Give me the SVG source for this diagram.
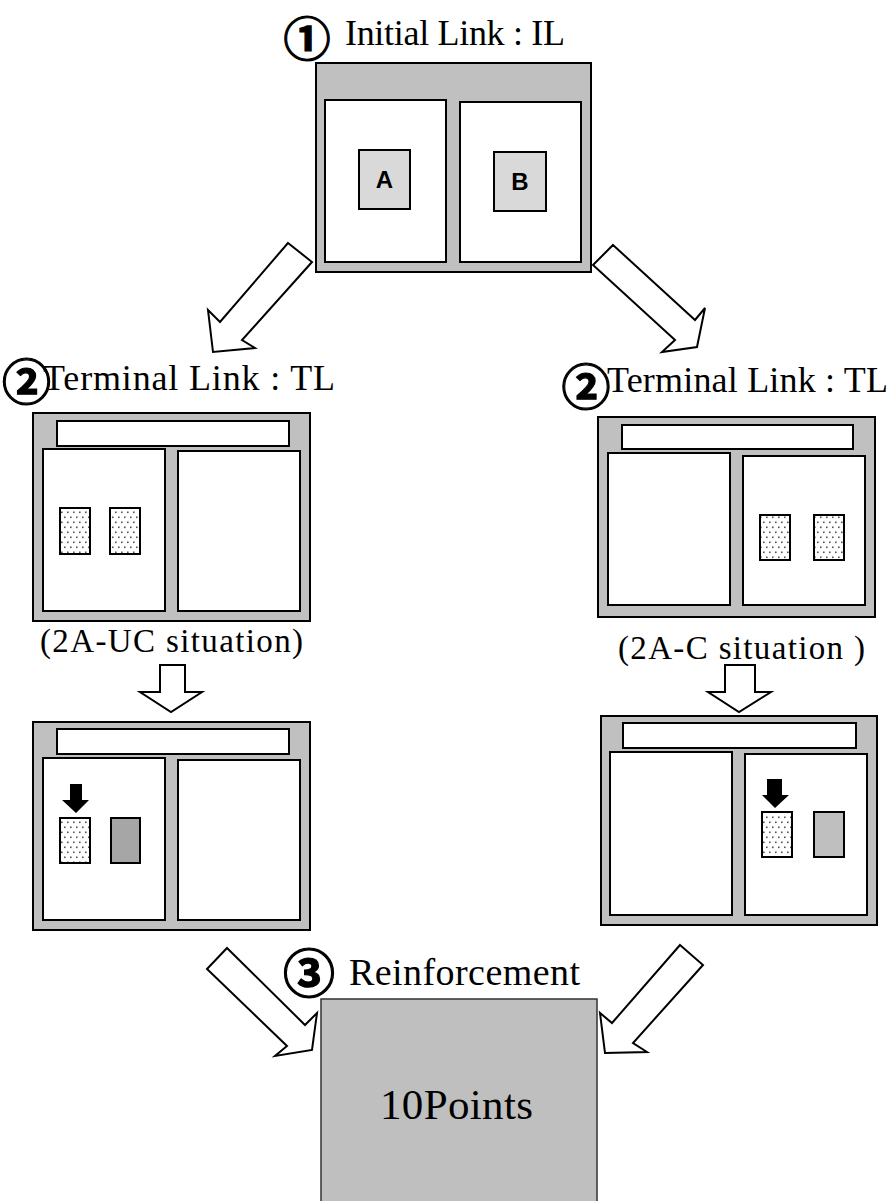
<svg xmlns="http://www.w3.org/2000/svg" width="896" height="1201" viewBox="0 0 896 1201">
  <defs>
    <!-- staggered dot fill for the stimulus cards -->
    <pattern id="dots" width="6" height="10" patternUnits="userSpaceOnUse">
      <rect width="6" height="10" fill="#ffffff"/>
      <rect x="1" y="1.5" width="1.6" height="1.6" fill="#555"/>
      <rect x="4" y="6.5" width="1.6" height="1.6" fill="#555"/>
    </pattern>
    <style>
      .frame { fill: #c0c0c0; stroke: #000; stroke-width: 2; }
      .panel { fill: #ffffff; stroke: #000; stroke-width: 2; }
      .bar   { fill: #ffffff; stroke: #000; stroke-width: 2; }
      .key   { fill: #d9d9d9; stroke: #000; stroke-width: 2; }
      .card  { fill: url(#dots); stroke: #000; stroke-width: 2; }
      .hollow { fill: #ffffff; stroke: #000; stroke-width: 2; stroke-linejoin: miter; }
      .solid { fill: #000; stroke: none; }
      .title { font-family: "Liberation Serif", "Times New Roman", serif; font-size: 36px; fill: #000; }
      .note  { font-family: "Liberation Serif", "Times New Roman", serif; font-size: 33px; fill: #000; }
      .num   { font-family: "Noto Sans CJK JP", "Noto Sans", sans-serif; font-weight: bold; font-size: 52px; fill: #000; stroke: #000; stroke-width: 1.2; text-anchor: middle; }
      .letter { font-family: "Liberation Sans", Arial, sans-serif; font-weight: bold; font-size: 24px; fill: #000; text-anchor: middle; }
    </style>
  </defs>

  <!-- stage 1: initial link -->
  <g id="initial-link">
    <text class="num" x="307" y="55.5" style="font-size:47px">①</text>
    <text class="title" x="345" y="45" textLength="220" lengthAdjust="spacing">Initial Link : IL</text>
    <rect class="frame" x="316" y="63" width="275" height="209"/>
    <rect class="panel" x="325" y="100" width="121" height="162"/>
    <rect class="panel" x="460" y="102" width="121" height="160"/>
    <rect class="key" x="359" y="150" width="51" height="59"/>
    <rect class="key" x="494" y="152" width="52" height="59"/>
    <text class="letter" x="384.5" y="188">A</text>
    <text class="letter" x="520" y="190">B</text>
  </g>

  <!-- stage 2 (left): terminal link, uncorrelated -->
  <g id="terminal-link-uc">
    <text class="num" x="26.5" y="400" style="font-size:49px">②</text>
    <text class="title" x="43" y="390" textLength="292" lengthAdjust="spacing">Terminal Link : TL</text>
    <rect class="frame" x="33" y="413" width="277" height="208"/>
    <rect class="bar" x="57" y="421" width="232" height="25"/>
    <rect class="panel" x="43" y="449" width="122" height="162"/>
    <rect class="panel" x="178" y="451" width="122" height="160"/>
    <rect class="card" x="60" y="508" width="30" height="46"/>
    <rect class="card" x="110" y="508" width="30" height="46"/>
    <text class="note" x="40" y="652" textLength="263" lengthAdjust="spacing">(2A-UC situation)</text>
  </g>

  <!-- stage 2 (right): terminal link, correlated -->
  <g id="terminal-link-c">
    <text class="num" x="586" y="404.5" style="font-size:49px">②</text>
    <text class="title" x="607" y="392" textLength="281" lengthAdjust="spacing">Terminal Link : TL</text>
    <rect class="frame" x="598" y="417" width="277" height="200"/>
    <rect class="bar" x="622" y="425" width="231" height="24"/>
    <rect class="panel" x="608" y="453" width="122" height="152"/>
    <rect class="panel" x="743" y="456" width="122" height="149"/>
    <rect class="card" x="760" y="515" width="30" height="45"/>
    <rect class="card" x="814" y="515" width="30" height="45"/>
    <text class="note" x="618" y="659" textLength="247" lengthAdjust="spacing">(2A-C situation )</text>
  </g>

  <!-- left choice screen -->
  <g id="choice-uc">
    <rect class="frame" x="33" y="722" width="277" height="208"/>
    <rect class="bar" x="57" y="729" width="232" height="25"/>
    <rect class="panel" x="43" y="758" width="122" height="162"/>
    <rect class="panel" x="178" y="760" width="122" height="160"/>
    <rect class="card" x="60" y="818" width="30" height="45"/>
    <rect x="111" y="818" width="29" height="45" fill="#a6a6a6" stroke="#000" stroke-width="2"/>
    <polygon class="solid" points="70,784 82,784 82,800 89,800 76,813 62,800 70,800"/>
  </g>

  <!-- right choice screen -->
  <g id="choice-c">
    <rect class="frame" x="601" y="716" width="276" height="209"/>
    <rect class="bar" x="623" y="723" width="233" height="25"/>
    <rect class="panel" x="610" y="752" width="122" height="163"/>
    <rect class="panel" x="745" y="754" width="122" height="161"/>
    <rect class="card" x="762" y="812" width="30" height="45"/>
    <rect x="814" y="812" width="30" height="45" fill="#bfbfbf" stroke="#000" stroke-width="2"/>
    <polygon class="solid" points="767,779 782,779 782,795 789,795 775,808 762,795 767,795"/>
  </g>

  <!-- stage 3: reinforcement -->
  <g id="reinforcement">
    <text class="num" x="309" y="992.5">③</text>
    <text class="title" x="349" y="985" textLength="231" lengthAdjust="spacing" style="font-size:38px">Reinforcement</text>
    <rect x="321" y="999" width="276" height="215" fill="#bfbfbf" stroke="#333" stroke-width="1.5"/>
    <text class="title" x="380" y="1119" textLength="153" lengthAdjust="spacing" style="font-size:43px">10Points</text>
  </g>

  <!-- block arrows between stages -->
  <g id="connectors">
    <polygon class="hollow" points="288,243 312,262 242,340 255,348 213,352 208,310 220,322"/>
    <polygon class="hollow" points="613,245 695,320 705,308 697,347 662,352 675,340 593,265"/>
    <polygon class="hollow" points="160,665 185,665 185,692 202,692 171,712 140,692 160,692"/>
    <polygon class="hollow" points="725,665 755,665 755,692 771,692 739,712 708,692 725,692"/>
    <polygon class="hollow" points="227,948 305,1025 317,1013 312,1050 275,1056 287,1046 207,969"/>
    <polygon class="hollow" points="680,945 703,965 633,1043 647,1052 605,1053 600,1013 612,1023"/>
  </g>
</svg>
